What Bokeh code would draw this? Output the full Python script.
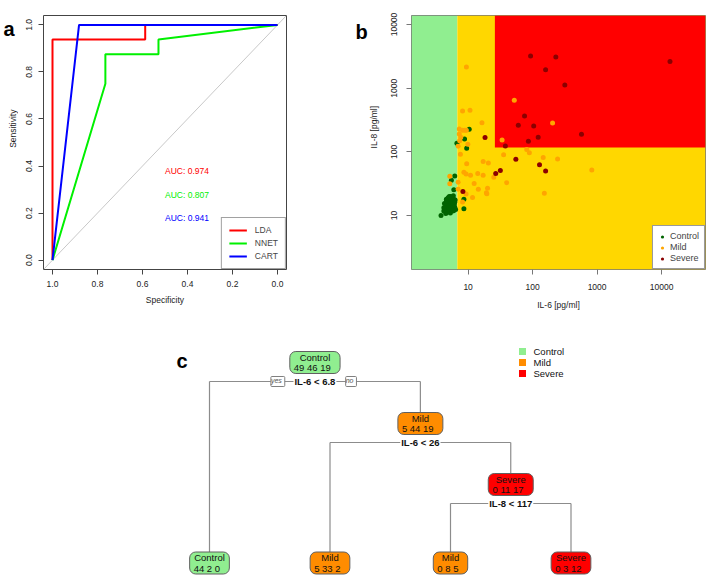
import math
from bokeh.plotting import figure
from bokeh.layouts import row, column
from bokeh.models import (Range1d, FixedTicker, PrintfTickFormatter, BasicTickFormatter,
                          Legend, LegendItem, Label, ColumnDataSource, Slope)
from bokeh.core.properties import value
from bokeh.embed import file_html
from bokeh.resources import INLINE

FONT = "Liberation Sans"

# ---------------- Panel a : ROC curves ----------------
lda_spec = [1.0, 1.0, 0.588, 0.588, 0.0]
lda_sens = [0.0, 0.9375, 0.9375, 1.0, 1.0]
nnet_spec = [1.0, 0.765, 0.765, 0.529, 0.529, 0.0]
nnet_sens = [0.0, 0.75, 0.875, 0.875, 0.9375, 1.0]
cart_spec = [1.0, 0.882, 0.0]
cart_sens = [0.0, 1.0, 1.0]
model_names = ["LDA", "NNET", "CART"]
auc_values = [0.974, 0.807, 0.941]
roc_ticks = [0.0, 0.2, 0.4, 0.6, 0.8, 1.0]

# ---------------- Panel b : IL-6 vs IL-8 ----------------
ctrl_il6 = [6.7, 6.2, 5.5, 6.0, 3.8, 4.5, 4.2,
            4.6, 4.9, 5.1, 5.3, 5.5, 5.7, 6.0, 6.3, 4.8, 5.0, 5.2, 5.4, 5.6, 5.8, 6.1,
            4.5, 4.7, 5.0, 5.2, 5.5, 5.7, 5.9, 6.2, 4.4, 4.9, 5.3, 5.6, 6.0, 6.4, 4.3,
            5.1, 5.9, 4.6, 5.4, 6.2, 4.2, 5.8,
            10.4, 8.8, 9.5, 8.6, 8.6]
ctrl_il8 = [137, 42, 36, 25.4, 10, 10.8, 11.8,
            18, 19, 17, 20, 18.5, 19.5, 18, 17.5, 16, 15, 16.5, 15.5, 17, 16, 15,
            14, 13, 13.5, 12.5, 14, 13, 14.5, 13.5, 12, 11.5, 11, 12, 12, 12.5, 15.5,
            20, 20.5, 16.8, 13.2, 16.2, 13.3, 11.8,
            226, 160, 114, 18.1, 12.8]
mild_il6 = [5.2, 5.2,
            9.4, 8.2, 10.7, 16.4, 8.2, 8.9, 9.4, 7.3, 7.7, 7.4, 9.9, 7.0, 7.6, 9.5, 7.0,
            8.6, 9.3, 10.9, 14.1, 17.1, 17.1, 20.6, 12.4, 11.7, 14.4, 20.0, 19.2, 7.0,
            9.3, 8.2, 25.0, 7.3, 19.5,
            81, 89, 35.5, 146, 244, 828, 39.6, 152,
            52, 204, 33.6]
mild_il8 = [41.6, 31.5,
            2150, 440, 450, 288, 219, 219, 219, 191, 170, 150, 132, 123, 92, 65, 33.5,
            48, 44.8, 43, 46, 43, 70.6, 66.7, 31.8, 19.2, 25.9, 26.9, 22.8, 26,
            21.9, 16.4, 40, 228, 22,
            109, 97, 90, 82, 77.6, 52, 32.7, 22.5,
            645, 285, 154]
sev_il6 = [93, 229, 159, 316, 13500, 75, 60, 104, 573, 122, 86, 37.8,
           18.3, 8.3, 55, 128, 159, 31.6, 26.8]
sev_il8 = [3200, 3100, 1950, 1120, 2630, 366, 262, 256, 189, 170, 147, 124,
           168, 23.9, 76.8, 63, 50, 51, 45.7]
log_ticks = [10, 100, 1000, 10000]
il6_split1 = 6.8
il6_split2 = 26
il8_split = 117

# ---------------- Panel c : decision tree ----------------
class_names = ["Control", "Mild", "Severe"]
node_id = [1, 2, 3, 6, 7, 14, 15]
node_class = ["Control", "Control", "Mild", "Mild", "Severe", "Mild", "Severe"]
node_n_control = [49, 44, 5, 5, 0, 0, 0]
node_n_mild = [46, 2, 44, 33, 11, 8, 3]
node_n_severe = [19, 0, 19, 2, 17, 5, 12]
split_node = [1, 3, 7]
split_label = ["IL-6 < 6.8", "IL-6 < 26", "IL-8 < 117"]

# ---------------- styles ----------------
class_colors = {"Control": "#90EE90", "Mild": "#FF8C00", "Severe": "#FF0000"}
point_colors = {"Control": "#006400", "Mild": "#FFA500", "Severe": "#8B0000"}
roc_colors = ["#FF0000", "#00F000", "#0000FF"]
AX = "#444444"
TXT = "#222222"
TOP_H = 323


def strip(x0, x1):
    """A narrow canvas (pixel coordinates) for panel letters and y-axis titles."""
    s = figure(width=int(x1 - x0), height=TOP_H, x_range=Range1d(x0, x1), y_range=Range1d(TOP_H, 0),
               output_backend="svg", toolbar_location=None, min_border=0,
               x_axis_location=None, y_axis_location=None, outline_line_color=None)
    s.grid.visible = False
    return s


# ================= Panel a =================
sa = strip(0, 18)
sa.text(x=[3], y=[16.7], text=["a"], text_font=value(FONT), text_font_size="20px",
        text_font_style="bold", text_baseline="alphabetic", text_align="left", text_color="black")
sa.text(x=[12.7], y=[144], text=["Sensitivity"], angle=math.pi / 2, text_font=value(FONT),
        text_font_size="8.5px", text_baseline="middle", text_align="center", text_color=TXT)

pa = figure(width=335, height=TOP_H, x_range=Range1d(1.04, -0.04), y_range=Range1d(-0.04, 1.04),
            output_backend="svg", toolbar_location=None,
            min_border_left=25, min_border_right=67, min_border_top=15, min_border_bottom=50)
pa.grid.visible = False
pa.outline_line_color = AX
pa.add_layout(Slope(gradient=-1, y_intercept=1, line_color="#C8C8C8", line_width=1, level="underlay"))
rl = pa.line(lda_spec, lda_sens, line_color=roc_colors[0], line_width=2)
rn = pa.line(nnet_spec, nnet_sens, line_color=roc_colors[1], line_width=2)
rc = pa.line(cart_spec, cart_sens, line_color=roc_colors[2], line_width=2)

auc_src = ColumnDataSource(dict(
    x=[0.5] * 3,
    y=[0.4 - 0.1 * i for i in range(3)],
    t=["AUC: %.3f" % a for a in auc_values],
    c=roc_colors))
pa.text(x="x", y="y", text="t", text_color="c", source=auc_src, text_font=value(FONT),
        text_font_size="8.5px", text_align="left", text_baseline="top")

leg_a = Legend(items=[LegendItem(label=n, renderers=[r]) for n, r in zip(model_names, [rl, rn, rc])],
               location="bottom_right", margin=0, padding=7, spacing=3, glyph_width=18,
               glyph_height=10, label_height=10, label_standoff=8, label_text_font=FONT,
               label_text_font_size="8.5px", border_line_color=AX, border_line_width=1,
               background_fill_color="white", background_fill_alpha=1)
pa.add_layout(leg_a)

for ax in (pa.xaxis, pa.yaxis):
    ax.ticker = FixedTicker(ticks=roc_ticks)
    ax.formatter = PrintfTickFormatter(format="%.1f")
pa.axis.axis_line_color = None
pa.axis.major_tick_line_color = AX
pa.axis.major_tick_out = 5
pa.axis.major_tick_in = 0
pa.axis.minor_tick_line_color = None
pa.axis.major_label_text_font = FONT
pa.axis.major_label_text_font_size = "8.5px"
pa.axis.major_label_text_color = TXT
pa.xaxis.axis_label_text_font = FONT
pa.xaxis.axis_label_text_font_size = "8.5px"
pa.xaxis.axis_label_text_font_style = "normal"
pa.xaxis.axis_label_text_color = TXT
pa.xaxis.axis_label = "Specificity"
pa.yaxis.major_label_orientation = "vertical"
pa.xaxis.major_label_standoff = 6
pa.yaxis.major_label_standoff = 6
pa.xaxis.axis_label_standoff = 5

# ================= Panel b =================
sb = strip(353, 380)
sb.text(x=[355], y=[20.7], text=["b"], text_font=value(FONT), text_font_size="20px",
        text_font_style="bold", text_baseline="alphabetic", text_align="left", text_color="black")
sb.text(x=[373.7], y=[142], text=["IL-8 [pg/ml]"], angle=math.pi / 2, text_font=value(FONT),
        text_font_size="8.5px", text_baseline="middle", text_align="center", text_color=TXT)

xlo, xhi = 10 ** 0.122, 10 ** 4.681
ylo, yhi = 10 ** 0.154, 10 ** 4.141
pb = figure(width=326, height=TOP_H, x_axis_type="log", y_axis_type="log",
            x_range=Range1d(xlo, xhi), y_range=Range1d(ylo, yhi),
            output_backend="svg", toolbar_location=None,
            min_border_left=31, min_border_right=1, min_border_top=15, min_border_bottom=54)
pb.grid.visible = False
pb.outline_line_color = "#777777"
pb.quad(left=[xlo], right=[il6_split1], bottom=[ylo], top=[yhi],
        fill_color=class_colors["Control"], line_color=None)
pb.quad(left=[il6_split1], right=[xhi], bottom=[ylo], top=[yhi],
        fill_color="#FFD700", line_color=None)
pb.quad(left=[il6_split2], right=[xhi], bottom=[il8_split], top=[yhi],
        fill_color=class_colors["Severe"], line_color=None)
sc = pb.scatter(ctrl_il6, ctrl_il8, size=5, fill_color=point_colors["Control"], line_color=None)
sm = pb.scatter(mild_il6, mild_il8, size=5, fill_color=point_colors["Mild"], line_color=None)
ss = pb.scatter(sev_il6, sev_il8, size=5, fill_color=point_colors["Severe"], line_color=None)
leg_b = Legend(items=[LegendItem(label=n, renderers=[r]) for n, r in zip(class_names, [sc, sm, ss])],
               location="bottom_right", margin=0, padding=5, spacing=1, glyph_width=8,
               glyph_height=9, label_height=9, label_standoff=4, label_text_font=FONT,
               label_text_font_size="9px", border_line_color="#333333", border_line_width=1,
               background_fill_color="white", background_fill_alpha=1)
pb.add_layout(leg_b)
for ax in (pb.xaxis, pb.yaxis):
    ax.ticker = FixedTicker(ticks=log_ticks)
    ax.formatter = BasicTickFormatter(use_scientific=False)
pb.axis.axis_line_color = None
pb.axis.major_tick_line_color = "#777777"
pb.axis.major_tick_out = 5
pb.axis.major_tick_in = 0
pb.axis.minor_tick_line_color = None
pb.axis.major_label_text_font = FONT
pb.axis.major_label_text_font_size = "8.5px"
pb.axis.major_label_text_color = TXT
pb.xaxis.axis_label_text_font = FONT
pb.xaxis.axis_label_text_font_size = "8.5px"
pb.xaxis.axis_label_text_font_style = "normal"
pb.xaxis.axis_label_text_color = TXT
pb.xaxis.axis_label = "IL-6 [pg/ml]"
pb.yaxis.major_label_orientation = "vertical"
pb.xaxis.major_label_standoff = 9
pb.yaxis.major_label_standoff = 9
pb.xaxis.axis_label_standoff = 7

# ================= Panel c =================
# layout constants (pixel space of the panel)
LEAF_X0, LEAF_DX = 209.0, 120.5
ROOT_Y, LEVEL_DY, LEAF_Y, SPLIT_DY = 362.0, 61.0, 562.5, 19.0
BOX_H, ROW_DY = 22, 5.2
FS = 9.5

CW = {" ": 0.278, ".": 0.278, "-": 0.333, "<": 0.584, "[": 0.278, "]": 0.278, "/": 0.278,
      "i": 0.222, "l": 0.222, "t": 0.278, "r": 0.333, "f": 0.278, "I": 0.278, "L": 0.556,
      "C": 0.722, "M": 0.833, "S": 0.667, "c": 0.5, "v": 0.5, "y": 0.5, "s": 0.5}


def est_w(s, size, bold=False):
    w = sum(CW.get(ch, 0.556) for ch in s) * size
    return w * (1.07 if bold else 1.0)


ids = set(node_id)
pos = {}
leaf_counter = [0]


def depth(n):
    return n.bit_length() - 1


def place(n):
    if 2 * n in ids:
        place(2 * n)
        place(2 * n + 1)
        x = 0.5 * (pos[2 * n][0] + pos[2 * n + 1][0])
        pos[n] = (x, ROOT_Y + depth(n) * LEVEL_DY)
    else:
        pos[n] = (LEAF_X0 + leaf_counter[0] * LEAF_DX, LEAF_Y)
        leaf_counter[0] += 1


place(1)

pc = figure(width=706, height=576 - TOP_H, x_range=Range1d(0, 706), y_range=Range1d(576, TOP_H),
            output_backend="svg", toolbar_location=None, min_border=0,
            x_axis_location=None, y_axis_location=None, outline_line_color=None)
pc.grid.visible = False

x0s, y0s, x1s, y1s = [], [], [], []
for n in split_node:
    ys_ = pos[n][1] + SPLIT_DY
    xl, yl = pos[2 * n]
    xr, yr = pos[2 * n + 1]
    x0s += [xl, xl, xr]
    y0s += [ys_, ys_, ys_]
    x1s += [xr, xl, xr]
    y1s += [ys_, yl, yr]
pc.segment(x0s, y0s, x1s, y1s, line_color="#8C8C8C", line_width=1.2)

counts_txt = ["%d  %d  %d" % t for t in zip(node_n_control, node_n_mild, node_n_severe)]
box_w = [max(est_w(a, FS), est_w(b, FS)) + 8 for a, b in zip(node_class, counts_txt)]
nx = [pos[n][0] for n in node_id]
ny = [pos[n][1] for n in node_id]
node_src = ColumnDataSource(dict(x=nx, y=ny, w=box_w, fill=[class_colors[c] for c in node_class],
                                 cls=node_class, cnt=counts_txt,
                                 y1=[y - ROW_DY for y in ny], y2=[y + ROW_DY for y in ny]))
pc.rect(x="x", y="y", width="w", height=BOX_H, width_units="screen", height_units="screen",
        fill_color="fill", line_color="#606060", line_width=1, border_radius=6, source=node_src)
pc.text(x="x", y="y1", text="cls", source=node_src, text_font=value(FONT), text_font_size="9.5px",
        text_align="center", text_baseline="middle", text_color="#111111")
pc.text(x="x", y="y2", text="cnt", source=node_src, text_font=value(FONT), text_font_size="9.5px",
        text_align="center", text_baseline="middle", text_color="#111111")

split_src = ColumnDataSource(dict(x=[pos[n][0] for n in split_node],
                                  y=[pos[n][1] + SPLIT_DY for n in split_node],
                                  t=split_label))
pc.text(x="x", y="y", text="t", source=split_src, text_font=value(FONT), text_font_size="9.5px",
        text_font_style="bold", text_align="center", text_baseline="middle", text_color="#111111",
        background_fill_color="white", padding=1)

# yes / no tags at the root split
root_lab_w = est_w(split_label[0], FS, bold=True)
yes_off = root_lab_w / 2 + 6 + 9.5
yn_src = ColumnDataSource(dict(x=[pos[1][0] - yes_off, pos[1][0] + yes_off - 1],
                               y=[pos[1][1] + SPLIT_DY] * 2, t=["yes", "no"]))
pc.text(x="x", y="y", text="t", source=yn_src, text_font=value(FONT), text_font_size="7px",
        text_font_style="italic", text_align="center", text_baseline="middle", text_color="#555555",
        background_fill_color="white", border_line_color="#808080", border_line_width=1,
        padding=[0, 3, 0, 3], border_radius=1)

# legend of panel c
LEG_X, LEG_Y0, LEG_DY = 522.0, 351.0, 11.0
leg_y = [LEG_Y0 + i * LEG_DY for i in range(len(class_names))]
pc.scatter([LEG_X] * 3, leg_y, marker="square", size=7, line_color=None,
           fill_color=[class_colors[c] for c in class_names])
pc.text([LEG_X + 11] * 3, leg_y, text=class_names, text_font=value(FONT), text_font_size="9.5px",
        text_align="left", text_baseline="middle", text_color="#111111")
pc.text(x=[176], y=[360], text=["c"], text_font=value(FONT), text_font_size="20px",
        text_font_style="bold", text_baseline="alphabetic", text_align="left", text_color="black")

layout = column(row(sa, pa, sb, pb), pc)
open("out.html", "w").write(file_html(layout, INLINE))
